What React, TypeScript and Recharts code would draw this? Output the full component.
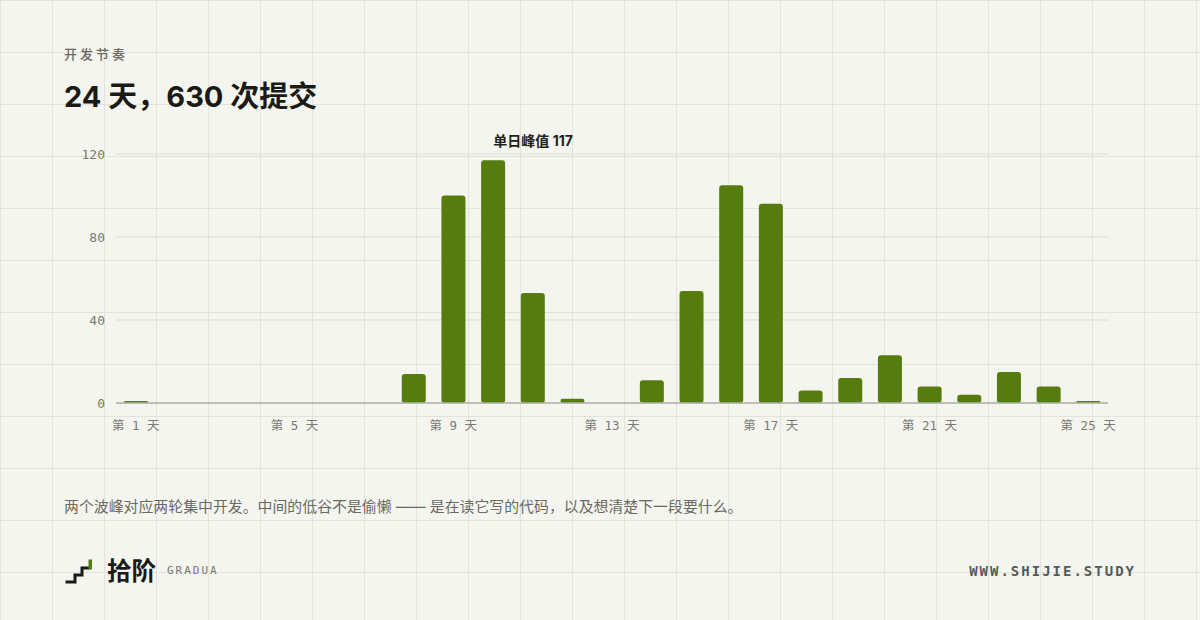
import React from 'react';
import { BarChart, Bar, XAxis, YAxis, CartesianGrid, LabelList } from 'recharts';

const dayLabels = [
  '第 1 天', '第 2 天', '第 3 天', '第 4 天', '第 5 天', '第 6 天', '第 7 天', '第 8 天', '第 9 天',
  '第 10 天', '第 11 天', '第 12 天', '第 13 天', '第 14 天', '第 15 天', '第 16 天', '第 17 天',
  '第 18 天', '第 19 天', '第 20 天', '第 21 天', '第 22 天', '第 23 天', '第 24 天', '第 25 天',
];
const commits = [1, 0, 0, 0, 0, 0, 0, 14, 100, 117, 53, 2, 0, 11, 54, 105, 96, 6, 12, 23, 8, 4, 15, 8, 1];
const yTicks = [0, 40, 80, 120];
const peakPrefix = '单日峰值';

const data = dayLabels.map((day, i) => ({ day, commits: commits[i] }));
const peak = Math.max(...commits);

const GREEN = '#567c0f';
const MONO = '"DejaVu Sans Mono", "Noto Sans CJK SC", monospace';
const SANS = 'Inter, "Noto Sans CJK SC", "Noto Sans", sans-serif';

const renderPeak = (props: any) => {
  const { x, y, width, value } = props;
  if (value !== peak) return null;
  return (
    <text
      x={Number(x) + Number(width) / 2 + 40}
      y={Number(y) - 14}
      textAnchor="middle"
      fontFamily={SANS}
      fontSize={14}
      fontWeight={700}
      fill="#1f1f1b"
    >
      {`${peakPrefix} ${value}`}
    </text>
  );
};

export default function App() {
  return (
    <div
      style={{
        position: 'absolute',
        left: 0,
        top: 0,
        width: 1200,
        height: 620,
        overflow: 'hidden',
        backgroundColor: '#f4f5ef',
        backgroundImage:
          'linear-gradient(to right, #e2e4dc 1px, transparent 1px), linear-gradient(to bottom, #e2e4dc 1px, transparent 1px)',
        backgroundSize: '52px 52px',
        fontFamily: SANS,
      }}
    >
      <div style={{ position: 'absolute', left: 0, top: 0 }}>
        <BarChart
          width={1200}
          height={620}
          data={data}
          margin={{ top: 154, right: 92, left: 0, bottom: 187 }}
        >
          <CartesianGrid vertical={false} stroke="#dcddd4" />
          <XAxis
            dataKey="day"
            interval={3}
            tickLine={false}
            axisLine={{ stroke: '#aeb0a8', strokeWidth: 1.5 }}
            tickSize={0}
            tickMargin={18}
            height={30}
            tick={{ fill: '#7a7a74', fontSize: 12.5, fontFamily: MONO }}
          />
          <YAxis
            domain={[0, 120]}
            ticks={yTicks}
            width={116}
            axisLine={false}
            tickLine={false}
            tickSize={0}
            tickMargin={11}
            tick={{ fill: '#7a7a74', fontSize: 13, fontFamily: MONO }}
          />
          <Bar dataKey="commits" fill={GREEN} radius={3} barSize={24} isAnimationActive={false}>
            <LabelList dataKey="commits" content={renderPeak} />
          </Bar>
        </BarChart>
      </div>

      <div
        style={{
          position: 'absolute', left: 64, top: 44, lineHeight: '20px', fontSize: 13,
          letterSpacing: 3, color: '#6a6a64', fontWeight: 500,
        }}
      >
        开发节奏
      </div>
      <div
        style={{
          position: 'absolute', left: 64, top: 77, lineHeight: '40px', fontSize: 29,
          fontWeight: 700, color: '#1a1a16', whiteSpace: 'nowrap',
        }}
      >
        24 天，630 次提交
      </div>

      <div
        style={{
          position: 'absolute', left: 64, top: 495, lineHeight: '24px', fontSize: 14.9,
          color: '#6a6a64', whiteSpace: 'nowrap',
        }}
      >
        两个波峰对应两轮集中开发。中间的低谷不是偷懒 —— 是在读它写的代码，以及想清楚下一段要什么。
      </div>

      <svg style={{ position: 'absolute', left: 0, top: 0 }} width={120} height={620}>
        <path d="M67 582 H75 V575 H82 V568 H88" fill="none" stroke="#1a1a16" strokeWidth={3} strokeLinecap="square" />
        <rect x={88.5} y={559.5} width={3.5} height={10} fill={GREEN} />
      </svg>
      <div
        style={{
          position: 'absolute', left: 107, top: 556, lineHeight: '30px', fontSize: 24.5,
          fontWeight: 700, color: '#1a1a16',
        }}
      >
        拾阶
      </div>
      <div
        style={{
          position: 'absolute', left: 167, top: 562, lineHeight: '18px', fontSize: 11,
          letterSpacing: 2, color: '#77776f', fontFamily: MONO,
        }}
      >
        GRADUA
      </div>
      <div
        style={{
          position: 'absolute', right: 64, top: 561, lineHeight: '20px', fontSize: 14,
          letterSpacing: 2, color: '#555a55', fontFamily: MONO, fontWeight: 700,
        }}
      >
        WWW.SHIJIE.STUDY
      </div>
    </div>
  );
}
